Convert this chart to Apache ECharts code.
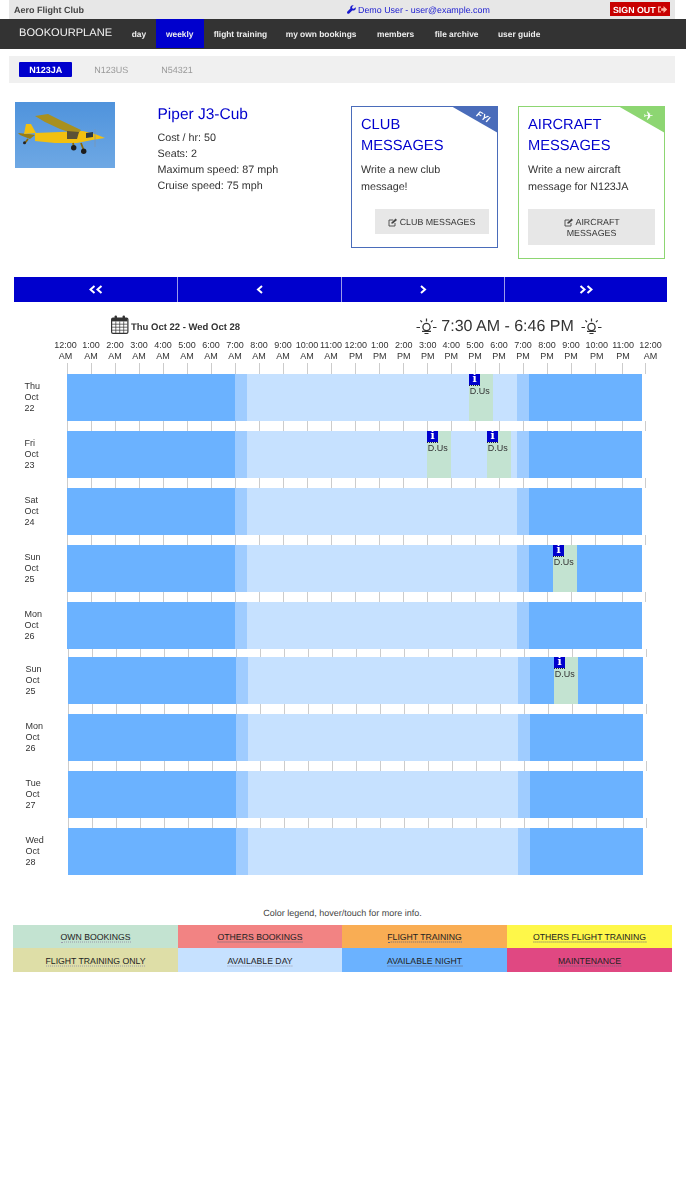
<!DOCTYPE html>
<html><head><meta charset="utf-8">
<style>
html,body{margin:0;padding:0;background:#fff;width:686px;height:1200px;overflow:hidden;font-family:"Liberation Sans",Arial,sans-serif;color:#333;text-rendering:geometricPrecision}
#page{position:absolute;left:0;top:0;width:686px;height:1200px}
#boxes{position:absolute;left:0;top:0}
#chart{position:absolute;left:0;top:0;width:686px;height:900px}
.b,.t,svg.a{position:absolute}
.t{white-space:nowrap;line-height:1;transform:translateY(-50%)}
.c{transform:translate(-50%,-50%);text-align:center}
</style>
<script src="https://cdn.jsdelivr.net/npm/echarts@6/dist/echarts.min.js"></script>
</head><body><div id="page"><div id="boxes"></div><div id="chart"></div></div>
<script>
// ---------- chart data ----------
const hourNames = ['12:00\nAM','1:00\nAM','2:00\nAM','3:00\nAM','4:00\nAM','5:00\nAM','6:00\nAM','7:00\nAM','8:00\nAM','9:00\nAM','10:00\nAM','11:00\nAM','12:00\nPM','1:00\nPM','2:00\nPM','3:00\nPM','4:00\nPM','5:00\nPM','6:00\nPM','7:00\nPM','8:00\nPM','9:00\nPM','10:00\nPM','11:00\nPM','12:00\nAM'];
const labelHours = [-0.06,1,2,3,4,5,6,7,8,9,10,11,12.03,13.03,14.03,15.03,16.01,17,18,19,20,21,22.07,23.17,24.31];
const tickHours = [0,1,2,3,4,5,6,7,8,9,10,11,12,13,14,15,16,17,18,19,20,21,22,23.13,24.1];
const rowNamesTop = ['Thu\nOct\n22','Fri\nOct\n23','Sat\nOct\n24','Sun\nOct\n25','Mon\nOct\n26'];
const rowNamesBottom = ['Sun\nOct\n25','Mon\nOct\n26','Tue\nOct\n27','Wed\nOct\n28'];
const nightBefore = [0,7];
const dawn = [7,7.5];
const daylight = [7.5,18.75];
const dusk = [18.75,19.25];
const nightAfter = [19.25,23.96];
const afterEnd = [23.96,24.6];
const bookingsTop = [[0,16.75,17.75,'D.Us'],[1,15,16,'D.Us'],[1,17.5,18.5,'D.Us'],[3,20.25,21.25,'D.Us']];
const bookingsBottom = [[0,20.25,21.25,'D.Us']];
// ---------- legend + page text ----------
const legendNames = ['OWN BOOKINGS','OTHERS BOOKINGS','FLIGHT TRAINING','OTHERS FLIGHT TRAINING','FLIGHT TRAINING ONLY','AVAILABLE DAY','AVAILABLE NIGHT','MAINTENANCE'];
const legendColors = ['#c3e3d1','#f28383','#f9ad54','#fef749','#dedea7','#c6e1ff','#6bb2ff','#e04882'];
const navItems = [['day',131.7],['weekly',166],['flight training',213.7],['my own bookings',285.7],['members',377],['file archive',434.7],['user guide',498]];
const specs = ['Cost / hr: 50','Seats: 2','Maximum speed: 87 mph','Cruise speed: 75 mph'];

const C = {night:'#6bb2ff',twi:'#9fccff',day:'#c6e1ff',own:'#c3e3d1',blue:'#0000cd',tick:'#cccccc',txt:'#333333'};
const FONT='"Liberation Sans",Arial,sans-serif';
const BAND=47/57, PITCH=57, H0=67;

// ---------- page chrome ----------
const page=document.getElementById('page'), boxes=document.getElementById('boxes');
function B(x,y,w,h,bg,extra){const d=document.createElement('div');d.className='b';d.style.cssText=`left:${x}px;top:${y}px;width:${w}px;height:${h}px;background:${bg};${extra||''}`;boxes.appendChild(d);return d;}
function T(x,cy,s,size,color,extra,center){const d=document.createElement('div');d.className='t'+(center?' c':'');d.textContent=s;d.style.cssText=`left:${x}px;top:${cy}px;font-size:${size}px;color:${color};${extra||''}`;page.appendChild(d);return d;}
function S(x,y,w,h,inner,vb){const n='<svg class="a" style="left:'+x+'px;top:'+y+'px" width="'+w+'" height="'+h+'" viewBox="'+(vb||('0 0 '+w+' '+h))+'">'+inner+'</svg>';page.insertAdjacentHTML('beforeend',n);}

B(9,0,666,19,'#e7e7e7');
T(14,10,'Aero Flight Club',9,'#444','font-weight:bold');
S(347,5,9,9,'<path d="M8.6 2.2 6.9 3.8 5.4 3.4 5 1.9 6.7.3C5.3-.2 3.6.6 3.3 2.2c-.1.5 0 1 .1 1.4L.4 6.6c-.5.5-.5 1.3 0 1.8s1.3.5 1.8 0l3-3c1.7.5 3.3-.4 3.6-2 0-.4 0-.8-.2-1.2z" fill="#1a1ad0"/>');
T(358,10,'Demo User - user@example.com',8.9,'#1a1ad0');
B(610,2,60,14,'#c80000');
T(613,9.5,'SIGN OUT',8.8,'#fff','font-weight:bold');
S(658,5,10,9,'<path d="M0 1.5h3v1.3H1.3v3.4H3v1.3H0zM3.2 3.2h2.3V1l3.7 3.5L5.5 8V5.8H3.2z" fill="#ffb0a0"/>');

B(0,19,686,30,'#333');
B(156,19,48,29,C.blue);
T(19,34,'BOOKOURPLANE',11.1,'#f4f4f4');
navItems.forEach(n=>T(n[1],34,n[0],8.4,'#eee','font-weight:bold'));

B(9,56,666,27,'#f0f0f0');
B(19,62,53,15,C.blue,'border-radius:1px');
T(45.7,69.7,'N123JA',9,'#fff','font-weight:bold',true);
T(94.3,69.7,'N123US',9,'#999');
T(161.3,69.7,'N54321',9,'#999');

S(15,102,100,66,`<defs><linearGradient id="sky" x1="0" y1="0" x2="0" y2="1"><stop offset="0" stop-color="#4f93dc"/><stop offset="1" stop-color="#6ea8e4"/></linearGradient></defs>
<rect width="100" height="66" fill="url(#sky)"/>
<path d="M3 31 14 32 20 33 15 37 5 33z" fill="#9a7d12"/>
<path d="M9 32 11 22 16 22 21 31z" fill="#f2c010"/>
<path d="M20 31 45 30 68 29 80 32 90 36 77 38 62 41 40 41 20 39z" fill="#f2c010"/>
<path d="M20 14 33 12 45 18 66 28 62 33 45 27 30 20z" fill="#a8901f"/>
<path d="M52 29 64 30 62 37 52 37z" fill="#5a5236"/>
<path d="M71 31 78 30 78 35 71 36z" fill="#2e3a44"/>
<path d="M58 41 59 45M66 41 69 49M10 41 13 37" stroke="#8a680a" stroke-width="1.8"/>
<circle cx="58.7" cy="45.7" r="2.7" fill="#1d1d1d"/><circle cx="68.7" cy="49.3" r="2.7" fill="#1d1d1d"/><circle cx="9.5" cy="40.7" r="1.5" fill="#222"/>
<path d="M80 27V45" stroke="#7f97ad" stroke-width=".7"/>`);
T(157.5,115,'Piper J3-Cub',15.5,C.blue);
specs.forEach((s,i)=>T(157.5,138+16*i,s,10.75,'#333'));

function card(x,w,h,col,title,body,btnX,btnW,btnH){
  B(x,106,w-2,h-2,'#fff',`border:1px solid ${col}`);
  S(x+w-47,106,47,27,`<path d="M0 0H47V27z" fill="${col}"/>`);
  title.forEach((s,i)=>T(x+10,124.5+21*i,s,14.7,C.blue));
  body.forEach((s,i)=>T(x+10,170.3+17*i,s,10.75,'#333'));
  B(btnX,209,btnW,btnH,'#e7e7e7');
}
card(351,147,142,'#4a6cba',['CLUB','MESSAGES'],['Write a new club','message!'],375,114,25);
card(518,147,153,'#8dd672',['AIRCRAFT','MESSAGES'],['Write a new aircraft','message for N123JA'],528,127,36);
const edit=`<path d="M1 2h4.2M1 2v6h6V5" stroke="#444" fill="none" stroke-width=".9"/><path d="M3.4 5.8 3.7 4.3 7.6.6 9 2 5 5.6z" fill="#444"/>`;
S(388,217.5,9,9,edit);
T(399.7,222,'CLUB MESSAGES',8.85,'#333');
S(564,217.5,9,9,edit);
T(575.5,222,'AIRCRAFT',8.85,'#333');
T(591.5,233,'MESSAGES',8.85,'#333','',true);
T(483,116.5,'FYI',8.8,'#fff','font-weight:bold;font-style:italic;transform:translate(-50%,-50%) rotate(30deg)');
T(648.5,116,'\u2708',12,'#fff','font-family:"DejaVu Sans";transform:translate(-50%,-50%)');

B(14,277,653,25,C.blue);
[177.5,341,504.5].forEach(x=>B(x-.5,277,1,25,'#9b9bea'));
const chev=(x,dir,n)=>{let p='';for(let i=0;i<n;i++){const cx=7+(n==2?(i?3.5:-3.5):0);p+=`<path d="M${cx+dir*2} 1 ${cx-dir*2} 4.5 ${cx+dir*2} 8" fill="none" stroke="#fff" stroke-width="2"/>`;}S(x-7,285,14,9,p);};
chev(96,1,2);chev(260,1,1);chev(423,-1,1);chev(586,-1,2);

S(111,315,18,19,`<rect x=".6" y="3" width="16.3" height="15.4" rx="1.4" fill="#fff" stroke="#333" stroke-width="1.2"/><rect x="1" y="3" width="15.5" height="3.4" fill="#333"/>
<path d="M1 9.2H16.5M1 12.2H16.5M1 15.2H16.5M4.8 6.4V18M8.7 6.4V18M12.7 6.4V18" stroke="#333" stroke-width=".7"/><rect x="3.6" y=".4" width="2.4" height="4.6" rx="1.1" fill="#333"/><rect x="11.6" y=".4" width="2.4" height="4.6" rx="1.1" fill="#333"/>`);
T(131,327.7,'Thu Oct 22 - Wed Oct 28',9.5,'#333','font-weight:bold');
const sun=`<circle cx="10.5" cy="10" r="3.6" fill="none" stroke="#333" stroke-width="1.3"/><path d="M6 14.3H15M8.5 16.5H12.5" stroke="#333" stroke-width="1.2" fill="none"/><path d="M10.5 1.5V4.5M4.4 3.4 6 5.2M16.6 3.4 15 5.2M0.5 10.5H4M17 10.5H20.5" stroke="#333" stroke-width="1.2"/>`;
S(416,317,21,19,sun);
S(580.5,317,21,19,sun);
T(441.3,327,'7:30 AM - 6:46 PM',16,'#333');

T(342.5,913,'Color legend, hover/touch for more info.',9,'#444','',true);
const cellX=[13,178,342,507,672], cellY=[925,948,972];
legendNames.forEach((n,i)=>{
  const c=i%4,r=i<4?0:1;
  B(cellX[c],cellY[r],cellX[c+1]-cellX[c],cellY[r+1]-cellY[r],legendColors[i]);
  T((cellX[c]+cellX[c+1])/2,(cellY[r]+cellY[r+1])/2+.5,n,8.7,'#222','border-bottom:1px dotted '+(i==0||i==4||i==5?'#99a':'#667')+';line-height:10px',true);
});

// ---------- chart ----------
function renderBand(color){
  return (params,api)=>{
    const r=api.value(0);
    const a=api.coord([api.value(1),r-BAND/2]), b=api.coord([api.value(2),r+BAND/2]);
    return {type:'rect',shape:{x:a[0],y:a[1],width:b[0]-a[0],height:b[1]-a[1]},style:{fill:color}};
  };
}
function renderBooking(params,api){
  const r=api.value(0);
  const a=api.coord([api.value(1),r-BAND/2]), b=api.coord([api.value(2),r+BAND/2]);
  return {type:'group',children:[
    {type:'rect',shape:{x:a[0],y:a[1],width:b[0]-a[0],height:b[1]-a[1]},style:{fill:C.own}},
    {type:'rect',shape:{x:a[0],y:a[1],width:11,height:11},style:{fill:C.blue}},
    {type:'text',style:{text:'i',x:a[0]+5.5,y:a[1]+5.5,fill:'#fff',font:'bold 11px "DejaVu Serif"',align:'center',verticalAlign:'middle'}},
    {type:'line',shape:{x1:a[0],y1:a[1]+11.5,x2:a[0]+11,y2:a[1]+11.5},style:{stroke:'#223',lineWidth:1,lineDash:[1,1]}},
    {type:'text',style:{text:api.value(3),x:a[0]+.7,y:a[1]+17.5,fill:C.txt,font:'9px '+FONT,verticalAlign:'middle'}}
  ]};
}
const rowsOf=(names,seg)=>names.map((_,i)=>[i,seg[0],seg[1]]);
function layerSeries(idx,names,bookings){
  const band=(name,seg,color)=>({type:'custom',name,xAxisIndex:idx,yAxisIndex:idx,renderItem:renderBand(color),encode:{x:[1,2],y:0},data:rowsOf(names,seg),silent:true,clip:false});
  return [
    band('Available night',nightBefore,C.night),band('Twilight',dawn,C.twi),band('Available day',daylight,C.day),
    band('Twilight',dusk,C.twi),band('Available night',nightAfter,C.night),band('Outside',afterEnd,'#ffffff'),
    {type:'custom',name:'Own bookings',xAxisIndex:idx,yAxisIndex:idx,renderItem:renderBooking,encode:{x:[1,2],y:0},data:bookings,silent:true,clip:false,z:4,
     dimensions:[{type:'number'},{type:'number'},{type:'number'},{type:'ordinal'}]}
  ];
}
function xAxis(idx,labels){
  return {type:'value',gridIndex:idx,position:'top',min:-1,max:25,
    axisLine:{show:false},axisTick:{show:false,customValues:tickHours},
    splitLine:{show:true,lineStyle:{color:C.tick,width:1}},
    axisLabel:{show:labels,customValues:labelHours,margin:0.5,color:'#333',fontSize:9,fontFamily:FONT,lineHeight:11.4,hideOverlap:false,
      formatter:v=>hourNames[labelHours.indexOf(v)]}};
}
function yAxis(idx,names,first,top,bottom){
  return {type:'value',gridIndex:idx,inverse:true,min:(top-first)/PITCH,max:(bottom-first)/PITCH,
    axisLine:{show:false},axisTick:{show:false},splitLine:{show:false},
    axisLabel:{customValues:names.map((_,i)=>i),align:'left',margin:18.5,color:'#333',fontSize:9,fontFamily:FONT,lineHeight:11,hideOverlap:false,
      formatter:v=>names[v]}};
}
const chart=echarts.init(document.getElementById('chart'),null,{renderer:'canvas',width:686,height:900});
chart.setOption({
  animation:false,backgroundColor:'transparent',
  grid:[{left:H0-24,top:363,width:624,height:286},{left:H0-23,top:649,width:624,height:226}],
  xAxis:[xAxis(0,true),xAxis(1,false)],
  yAxis:[yAxis(0,rowNamesTop,397.5,363,649),yAxis(1,rowNamesBottom,680.5,649,875)],
  series:[...layerSeries(0,rowNamesTop,bookingsTop),...layerSeries(1,rowNamesBottom,bookingsBottom)]
});
</script></body></html>
